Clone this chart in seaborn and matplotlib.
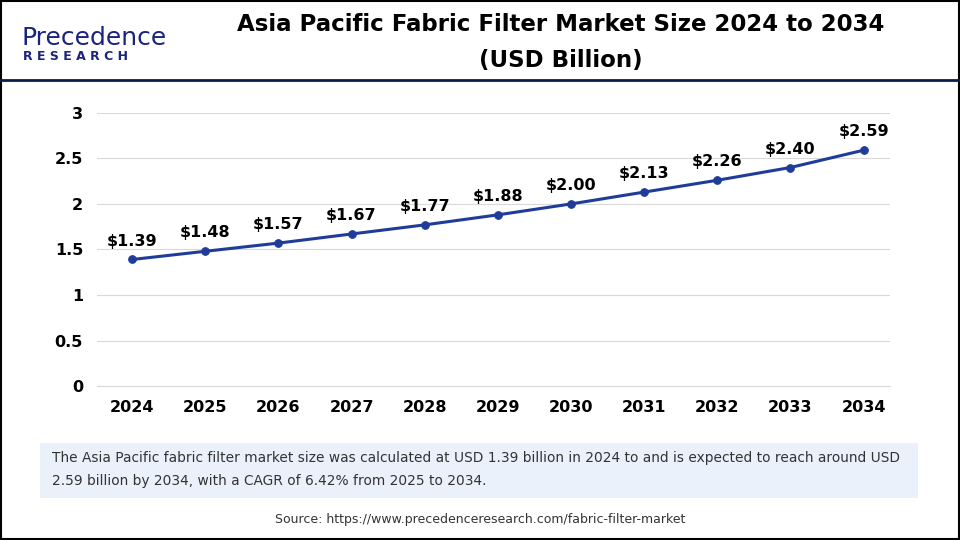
import matplotlib
matplotlib.use("Agg")
import matplotlib.pyplot as plt
import seaborn as sns
import pandas as pd
from matplotlib.patches import Rectangle
from matplotlib.lines import Line2D

years = ["2024","2025","2026","2027","2028","2029","2030","2031","2032","2033","2034"]
values = [1.39,1.48,1.57,1.67,1.77,1.88,2.00,2.13,2.26,2.40,2.59]
yticks = [0,0.5,1,1.5,2,2.5,3]
ytick_labels = ["0","0.5","1","1.5","2","2.5","3"]

df = pd.DataFrame({"x": range(len(years)), "v": values})
fig = plt.figure(figsize=(9.6,5.4), dpi=100)
ax = fig.add_axes([0.101, 0.285, 0.826, 0.506])
sns.lineplot(data=df, x="x", y="v", ax=ax, color="#1f3c99", linewidth=2.2,
             marker="o", markersize=5.5, markeredgecolor="#1f3c99")
for i, v in enumerate(values):
    ax.text(i, v + 0.12, f"${v:.2f}", ha="center", va="bottom", fontsize=11.5,
            fontweight="bold", family="DejaVu Sans")
ax.set_xlim(-0.48, 10.36)
ax.set_ylim(0, 3)
ax.set_yticks(yticks)
ax.set_yticklabels(ytick_labels)
ax.set_xticks(range(len(years)))
ax.set_xticklabels(years)
ax.grid(axis="y", color="#d9d9d9", linewidth=0.8)
ax.set_axisbelow(True)
for s in ["top","right","left"]:
    ax.spines[s].set_visible(False)
ax.spines["bottom"].set_color("#d9d9d9")
ax.tick_params(length=0, labelsize=11.5, pad=10)
for t in ax.get_xticklabels()+ax.get_yticklabels():
    t.set_fontweight("bold")
ax.set_xlabel(""); ax.set_ylabel("")

fig.text(0.584, 0.955, "Asia Pacific Fabric Filter Market Size 2024 to 2034", ha="center", va="center",
         fontsize=16.5, fontweight="bold")
fig.text(0.584, 0.888, "(USD Billion)", ha="center", va="center", fontsize=16.5, fontweight="bold")
fig.text(0.022, 0.93, "Precedence", color="#1a237e", fontsize=18, va="center")
fig.text(0.024, 0.895, "R E S E A R C H", color="#1a237e", fontsize=9, fontweight="bold", va="center")
fig.add_artist(Line2D([0,1],[1-80/540]*2, color="#0d1b4a", linewidth=2, transform=fig.transFigure))
fig.add_artist(Rectangle((40/960, 1-498/540), 878/960, 55/540, transform=fig.transFigure,
                         facecolor="#eaf1fb", edgecolor="none"))
fig.text(52/960, 1-458/540, "The Asia Pacific fabric filter market size was calculated at USD 1.39 billion in 2024 to and is expected to reach around USD",
         fontsize=9.9, va="center", color="#333333")
fig.text(52/960, 1-481/540, "2.59 billion by 2034, with a CAGR of 6.42% from 2025 to 2034.",
         fontsize=9.9, va="center", color="#333333")
fig.text(0.5, 1-519/540, "Source: https://www.precedenceresearch.com/fabric-filter-market", ha="center",
         va="center", fontsize=9, color="#333333")
fig.add_artist(Rectangle((0.001,0.001),0.998,0.997, transform=fig.transFigure, fill=False,
                         edgecolor="black", linewidth=1.5))
fig.savefig("out.png", dpi=100)
